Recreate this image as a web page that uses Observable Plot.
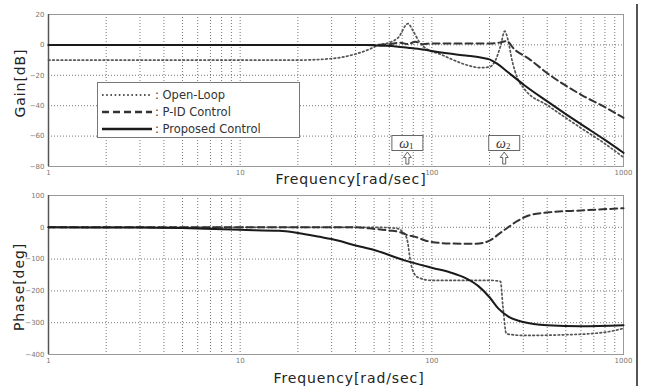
<!DOCTYPE html>
<html><head><meta charset="utf-8">
<script src="https://cdn.jsdelivr.net/npm/d3@7"></script>
<script src="https://cdn.jsdelivr.net/npm/@observablehq/plot@0.6"></script>
<style>
body{margin:0;background:#fff;}
#wrap{position:relative;width:645px;height:387px;overflow:hidden;background:#fff;font-family:"DejaVu Sans",sans-serif;}
.panel{position:absolute;left:0;}
.lab{position:absolute;font-size:14px;letter-spacing:0.9px;color:#222;white-space:nowrap;line-height:1;}
.ylab{transform:translate(-50%,-50%) rotate(-90deg);}
.xlab{transform:translate(-50%,-50%);}
#legend{position:absolute;left:97px;top:82px;width:203px;height:56px;border:1px solid #777;background:#fff;box-sizing:border-box;font-family:"DejaVu Sans",sans-serif;font-size:11.5px;color:#333;}
#legend .row{position:absolute;left:3px;height:14px;display:flex;align-items:center;}
#legend .row span{margin-left:2px;}
#border{position:absolute;left:636px;top:4px;width:2px;height:382px;background:#555;}
</style></head><body><div id="wrap"></div>
<script>
// ---- axis ticks & labels ----
const xTicks = [1, 10, 100, 1000];
const gainTicks = [20, 0, -20, -40, -60, -80];
const phaseTicks = [100, 0, -100, -200, -300, -400];
const seriesNames = ["Open-Loop", "P-ID Control", "Proposed Control"];
const omegaFreq = [75, 240];
const omegaSub = ["1", "2"];

// ---- Gain [dB] ----
const olGainF  = [1, 20, 30, 40, 47, 53, 60, 67, 75, 80, 86, 95, 110, 130, 150, 180, 200, 215, 228, 240, 250, 262, 280, 304, 404, 500, 605, 800, 1000];
const olGainDb = [-10, -10, -9, -6, -3, 0, 1.5, 5, 14, 9, 2, -3, -6, -10, -13, -15, -14.5, -10, -1, 9, 3, -10, -22, -29, -40, -48, -55, -65, -74];
const pidGainF  = [1, 50, 60, 68, 75, 82, 90, 100, 130, 170, 200, 225, 245, 270, 320, 404, 605, 800, 1000];
const pidGainDb = [0, 0, 0.5, 1.5, 0.5, 2, 0.5, 1, 1, 1, 1, 1.5, 2.5, -3, -9, -19, -33, -41, -48];
const propGainF  = [1, 30, 45, 55, 65, 75, 90, 100, 120, 150, 180, 200, 220, 250, 304, 404, 500, 605, 800, 1000];
const propGainDb = [0, 0, 0, -0.5, -1, -1.8, -3, -4, -5.5, -7, -8.3, -9.5, -12.5, -18, -26.5, -37.5, -45.5, -52.5, -62.5, -71];

// ---- Phase [deg] ----
const olPhaseF   = [1, 50, 65, 72, 75, 77, 80, 85, 100, 150, 200, 228, 235, 245, 300, 500, 800, 1000];
const olPhaseDeg = [0, 0, -3, -20, -50, -100, -140, -158, -167, -167, -167, -170, -250, -335, -340, -338, -330, -318];
const pidPhaseF   = [1, 40, 50, 60, 68, 75, 82, 93, 123, 170, 200, 225, 250, 280, 320, 410, 600, 1000];
const pidPhaseDeg = [0, 0, -5, -10, -15, -25, -30, -42, -51, -52, -42, -20, 0, 20, 37, 47, 53, 60];
const propPhaseF   = [1, 3, 6, 10, 16, 20, 26, 30, 40, 51, 72, 101, 125, 150, 175, 200, 222, 250, 300, 400, 600, 1000];
const propPhaseDeg = [0, -1, -4, -8, -11, -18, -30, -37, -57, -73, -104, -128, -142, -160, -185, -220, -255, -280, -298, -308, -311, -308];

const styles = {
  "Open-Loop":        {stroke: "#555", strokeWidth: 1.7, strokeDasharray: "1.6,2.6"},
  "P-ID Control":     {stroke: "#333", strokeWidth: 2,   strokeDasharray: "7,4"},
  "Proposed Control": {stroke: "#1a1a1a", strokeWidth: 2, strokeDasharray: null}
};

const toRows = (fs, vs) => fs.map((f, i) => ({f, v: vs[i]}));
const gainSeries = [
  ["Open-Loop", toRows(olGainF, olGainDb)],
  ["P-ID Control", toRows(pidGainF, pidGainDb)],
  ["Proposed Control", toRows(propGainF, propGainDb)]
];
const phaseSeries = [
  ["Open-Loop", toRows(olPhaseF, olPhaseDeg)],
  ["P-ID Control", toRows(pidPhaseF, pidPhaseDeg)],
  ["Proposed Control", toRows(propPhaseF, propPhaseDeg)]
];

const gridF = [];
for (const d of [1, 10, 100]) for (let k = 1; k <= 9; k++) gridF.push(d * k);
gridF.push(1000);

function panel(series, yDomain, yTicks, height, mt, mb) {
  return Plot.plot({
    width: 645, height,
    marginLeft: 48, marginRight: 22, marginTop: mt, marginBottom: mb,
    style: {fontSize: "7px", color: "#777", background: "transparent", fontFamily: "DejaVu Sans, sans-serif"},
    x: {type: "log", domain: [1, 1000], ticks: xTicks, tickFormat: d => String(d), tickSize: 0, tickPadding: 4, label: null},
    y: {domain: yDomain, ticks: yTicks, tickSize: 0, tickPadding: 4, label: null},
    marks: [
      Plot.ruleX(gridF, {stroke: "#777", strokeWidth: 1, strokeDasharray: "1,2"}),
      Plot.ruleY(yTicks, {stroke: "#777", strokeWidth: 1, strokeDasharray: "1,2"}),
      Plot.frame({stroke: "#999", strokeWidth: 1}),
      Plot.ruleX([1], {stroke: "#555", strokeWidth: 1.5}),
      ...series.map(([name, rows]) => Plot.line(rows, {x: "f", y: "v", curve: "monotone-x", ...styles[name]}))
    ]
  });
}

const wrap = document.getElementById("wrap");
const gainPlot = panel(gainSeries, [-80, 20], gainTicks, 190, 14, 24);
gainPlot.classList.add("panel"); gainPlot.style.top = "0px";
const phasePlot = panel(phaseSeries, [-400, 100], phaseTicks, 202, 10, 33);
phasePlot.classList.add("panel"); phasePlot.style.top = "185px";
wrap.appendChild(gainPlot); wrap.appendChild(phasePlot);

// omega annotations placed with the x scale of the gain plot
const xs = gainPlot.scale("x");
const ann = d3.select(gainPlot).append("g");
omegaFreq.forEach((f, i) => {
  const cx = xs.apply(f);
  ann.append("rect").attr("x", cx - 15.5).attr("y", 135.5).attr("width", 31).attr("height", 15)
    .attr("fill", "#fff").attr("stroke", "#666").attr("stroke-width", 1);
  const t = ann.append("text").attr("x", cx - 1).attr("y", 147.5).attr("text-anchor", "middle")
    .attr("font-family", "Liberation Serif, DejaVu Serif, serif").attr("fill", "#333");
  t.append("tspan").attr("font-size", 14).attr("font-style", "italic").text("ω");
  t.append("tspan").attr("font-size", 9).attr("dy", 1).text(omegaSub[i]);
  ann.append("path")
    .attr("d", `M${cx},152 L${cx + 4},157.5 L${cx + 1.5},157.5 L${cx + 1.5},164 L${cx - 1.5},164 L${cx - 1.5},157.5 L${cx - 4},157.5 Z`)
    .attr("fill", "#fff").attr("stroke", "#555").attr("stroke-width", 0.9);
});

// axis titles
function label(text, x, y, cls) {
  const d = document.createElement("div");
  d.className = "lab " + cls; d.textContent = text;
  d.style.left = x + "px"; d.style.top = y + "px";
  wrap.appendChild(d);
}
label("Gain[dB]", 20, 83, "ylab");
label("Frequency[rad/sec]", 351, 179, "xlab");
label("Phase[deg]", 19, 287, "ylab");
label("Frequency[rad/sec]", 349, 378, "xlab");

// legend
const leg = document.createElement("div");
leg.id = "legend";
seriesNames.forEach((name, i) => {
  const row = document.createElement("div");
  row.className = "row";
  row.style.top = [5, 22, 39][i] + "px";
  const s = styles[name];
  row.innerHTML = `<svg width="52" height="8"><line x1="1" x2="51" y1="4" y2="4" stroke="${s.stroke}" stroke-width="${s.strokeWidth + 0.3}" ${s.strokeDasharray ? `stroke-dasharray="${s.strokeDasharray}"` : ""}/></svg><span>: ${name}</span>`;
  leg.appendChild(row);
});
wrap.appendChild(leg);

const border = document.createElement("div");
border.id = "border";
wrap.appendChild(border);
</script>
</body></html>
